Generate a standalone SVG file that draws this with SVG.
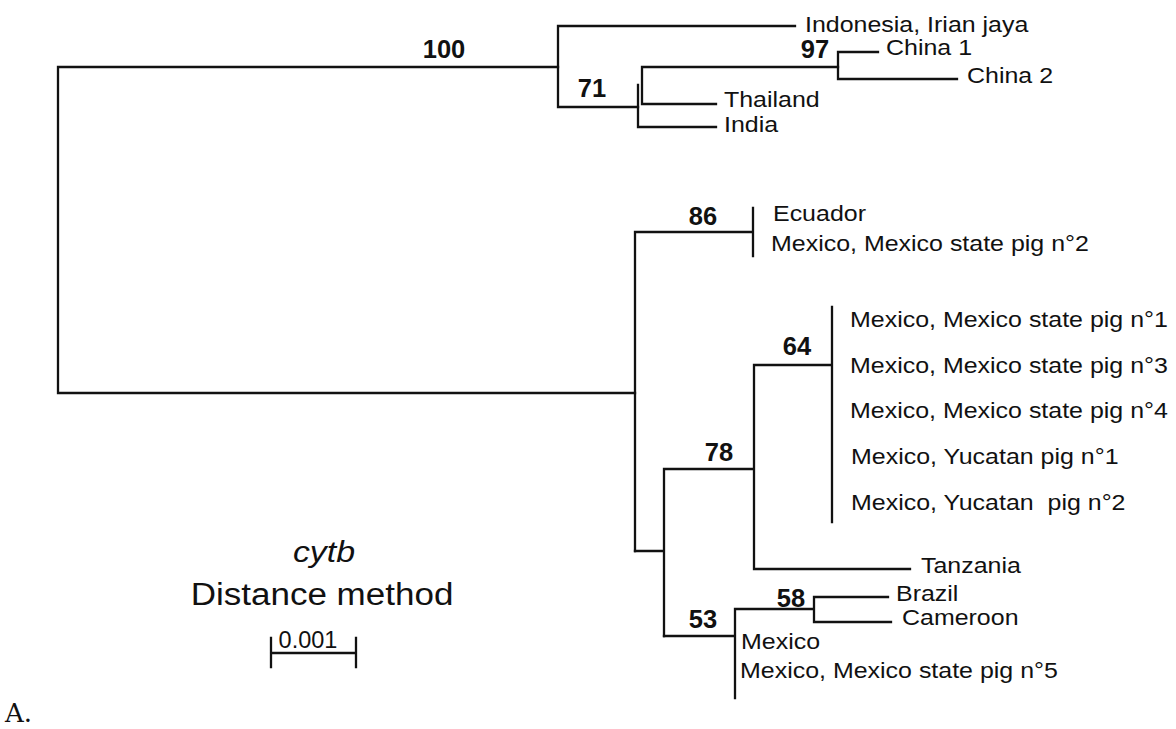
<svg xmlns="http://www.w3.org/2000/svg" width="1176" height="729" viewBox="0 0 1176 729">
<style>
.br{fill:none;stroke:#111;stroke-width:2.3;stroke-linecap:square}
.lb{font-family:"Liberation Sans",Arial,sans-serif;font-size:22.5px;fill:#111}
.bs{font-family:"Liberation Sans",Arial,sans-serif;font-size:25.5px;font-weight:bold;fill:#111;text-anchor:middle}
.lg{font-family:"Liberation Sans",Arial,sans-serif;fill:#111;text-anchor:middle}
</style>
<rect width="1176" height="729" fill="#fff"/>
<g id="connectors" class="br">
<path d="M58,67V393M58,67H558M58,393H635"/>
<path d="M558,26V107M558,26H795M558,107H638"/>
<path d="M638,85V127M638,127H716M642,67V104M642,104H716M642,67H838"/>
<path d="M838,52V79M838,52H878M838,79H957"/>
<path d="M635,232V551M635,232H753M753,208V256"/>
<path d="M635,551H664M664,469V636M664,469H754M754,365V569M754,569H910M754,365H832M832,307V522"/>
<path d="M664,636H735M735,609V698M735,609H814M814,597V622M814,597H888M814,622H891"/>
<path d="M271,638V667M356,638V667M271,653H356"/>
</g>
<g id="bootstrap">
<text class="bs" x="444" y="58">100</text>
<text class="bs" x="592" y="97">71</text>
<text class="bs" x="815" y="58">97</text>
<text class="bs" x="703" y="225">86</text>
<text class="bs" x="797" y="355">64</text>
<text class="bs" x="719" y="461">78</text>
<text class="bs" x="703" y="628">53</text>
<text class="bs" x="791" y="607">58</text>
</g>
<g id="n-indonesia"><text class="lb" transform="translate(805,32) scale(1.11,1)">Indonesia, Irian jaya</text></g>
<g id="n-china1"><text class="lb" transform="translate(886,55) scale(1.11,1)">China 1</text></g>
<g id="n-china2"><text class="lb" transform="translate(967,83) scale(1.11,1)">China 2</text></g>
<g id="n-thailand"><text class="lb" transform="translate(724,107) scale(1.11,1)">Thailand</text></g>
<g id="n-india"><text class="lb" transform="translate(724,132) scale(1.11,1)">India</text></g>
<g id="n-ecuador"><text class="lb" transform="translate(773,221) scale(1.11,1)">Ecuador</text></g>
<g id="n-mex2"><text class="lb" transform="translate(771,251) scale(1.11,1)">Mexico, Mexico state pig n°2</text></g>
<g id="n-mex1"><text class="lb" transform="translate(850,327) scale(1.11,1)">Mexico, Mexico state pig n°1</text></g>
<g id="n-mex3"><text class="lb" transform="translate(850,373) scale(1.11,1)">Mexico, Mexico state pig n°3</text></g>
<g id="n-mex4"><text class="lb" transform="translate(850,418) scale(1.11,1)">Mexico, Mexico state pig n°4</text></g>
<g id="n-yuc1"><text class="lb" transform="translate(851,464) scale(1.11,1)">Mexico, Yucatan pig n°1</text></g>
<g id="n-yuc2"><text class="lb" transform="translate(851,510) scale(1.11,1)" xml:space="preserve">Mexico, Yucatan  pig n°2</text></g>
<g id="n-tanzania"><text class="lb" transform="translate(921,573) scale(1.11,1)">Tanzania</text></g>
<g id="n-brazil"><text class="lb" transform="translate(896,601) scale(1.11,1)">Brazil</text></g>
<g id="n-cameroon"><text class="lb" transform="translate(902,625) scale(1.11,1)">Cameroon</text></g>
<g id="n-mexico"><text class="lb" transform="translate(741,649) scale(1.11,1)">Mexico</text></g>
<g id="n-mex5"><text class="lb" transform="translate(740,678) scale(1.11,1)">Mexico, Mexico state pig n°5</text></g>
<g id="legend">
<text class="lg" transform="translate(324,562) scale(1.13,1)" font-size="30" font-style="italic">cytb</text>
<text class="lg" transform="translate(322,605) scale(1.13,1)" font-size="31">Distance method</text>
<text class="lg" x="308" y="648" font-size="23.5">0.001</text>
</g>
<text x="5" y="722" font-family="DejaVu Serif,serif" font-size="26" fill="#111">A.</text>
</svg>
